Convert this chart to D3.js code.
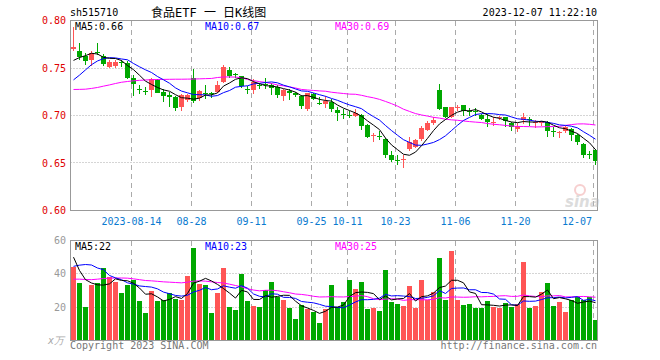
<!DOCTYPE html>
<html>
<head>
<meta charset="utf-8">
<script src="https://cdn.jsdelivr.net/npm/d3@7"></script>
<style>
body { margin: 0; background: #fff; }
text { font-family: "DejaVu Sans Mono", monospace; font-size: 10px; }
</style>
</head>
<body>
<div id="chart"></div>
<script>
// tick positions (candle index) and their date labels
const tickIdx = [10, 20, 30, 40, 46, 54, 64, 74, 87];
const tickLabels = ["2023-08-14", "08-28", "09-11", "09-25", "10-11", "10-23", "11-06", "11-20", "12-07"];
const priceTicks = [0.60, 0.65, 0.70, 0.75, 0.80];
const volTicks = [20, 40, 60];

// daily candles
const open = [.7695,.7675,.7623,.7580,.7672,.7630,.7511,.7522,.7560,.7550,.7395,.7280,.7262,.7267,.7372,.7250,.7215,.7190,.7086,.7162,
  .7400,.7180,.7240,.7235,.7246,.7351,.7483,.7435,.7420,.7276,.7267,.7318,.7330,.7326,.7302,.7204,.7263,.7239,.7204,.7064,
  .7228,.7136,.7124,.7141,.7061,.7017,.7010,.6998,.7005,.6903,.6786,.6788,.6753,.6579,.6535,.6542,.6649,.6673,.6753,.6848,
  .6917,.7266,.7085,.6987,.7083,.7109,.7045,.7052,.7004,.6962,.6926,.6978,.6980,.6917,.6858,.6952,.6964,.6926,.6926,.6928,
  .6832,.6821,.6840,.6858,.6798,.6701,.6591,.6638];
const high = [.7930,.7763,.7660,.7679,.7763,.7645,.7580,.7580,.7588,.7570,.7424,.7319,.7302,.7400,.7389,.7274,.7250,.7204,.7225,.7225,
  .7494,.7265,.7316,.7246,.7361,.7536,.7511,.7448,.7420,.7309,.7379,.7344,.7396,.7337,.7326,.7281,.7274,.7246,.7221,.7239,
  .7239,.7197,.7204,.7169,.7085,.7068,.7043,.7068,.7015,.6910,.6813,.6834,.6764,.6631,.6589,.6579,.6771,.6753,.6893,.6945,
  .6987,.7329,.7092,.7092,.7113,.7109,.7078,.7078,.7015,.7015,.6980,.6997,.6987,.6928,.6917,.7022,.6987,.6952,.6945,.6938,
  .6875,.6840,.6893,.6868,.6805,.6708,.6631,.6648];
const low = [.7680,.7588,.7529,.7522,.7634,.7520,.7495,.7495,.7511,.7380,.7204,.7225,.7215,.7197,.7232,.7145,.7086,.7051,.7051,.7140,
  .7128,.7150,.7176,.7187,.7239,.7337,.7396,.7396,.7291,.7228,.7228,.7281,.7281,.7221,.7187,.7152,.7162,.7197,.7064,.7047,
  .7162,.7106,.7082,.7036,.6945,.6963,.6973,.6987,.6848,.6764,.6725,.6743,.6551,.6509,.6474,.6450,.6624,.6659,.6736,.6841,
  .6903,.7057,.6970,.6970,.7043,.6998,.6997,.6997,.6952,.6875,.6893,.6952,.6882,.6833,.6823,.6910,.6893,.6868,.6893,.6778,
  .6778,.6760,.6812,.6736,.6694,.6554,.6544,.6484];
const close = [.7721,.7616,.7574,.7661,.7664,.7546,.7564,.7564,.7555,.7400,.7330,.7270,.7255,.7379,.7239,.7204,.7200,.7075,.7218,.7215,
  .7150,.7257,.7235,.7230,.7316,.7511,.7420,.7428,.7309,.7272,.7351,.7314,.7322,.7291,.7221,.7267,.7239,.7211,.7099,.7232,
  .7176,.7132,.7152,.7064,.7026,.7013,.7006,.7026,.6893,.6778,.6790,.6771,.6579,.6533,.6531,.6546,.6718,.6746,.6869,.6917,
  .6956,.7068,.6980,.7085,.7087,.7050,.7041,.7048,.6962,.6928,.6930,.6982,.6938,.6882,.6893,.6987,.6960,.6930,.6930,.6840,
  .6828,.6825,.6882,.6798,.6718,.6579,.6587,.6519];
// volume in 万 lots
const volume = [44.4,34.5,20.2,33.3,34.5,43.8,38.2,35.2,28.5,33.5,36.4,23.8,16.6,29.9,24.0,24.4,28.3,25.0,24.4,38.8,
  55.8,33.9,33.5,16.6,28.5,43.4,20.2,18.6,39.8,23.6,21.0,20.0,30.1,35.2,25.9,24.6,19.6,12.7,21.4,19.2,
  17.4,10.7,19.0,33.1,20.2,23.2,36.2,30.9,35.0,19.0,19.6,17.8,42.2,23.2,22.0,20.8,32.7,19.8,36.2,24.4,
  29.1,49.3,24.4,53.5,24.4,21.4,22.0,19.8,19.8,23.8,20.2,19.8,22.6,20.4,22.0,46.9,19.8,21.0,29.3,34.5,
  20.8,23.2,17.2,24.4,26.1,24.6,25.9,12.5];

// moving-average values before enough history is on the chart
const ma5Head = [.7580,.7610,.7630,.7655];
const ma10Head = [.7375,.7425,.7480,.7535,.7574,.7599,.7609,.7606,.7595];
const ma30Head = [.7274,.7275,.7277,.7285,.7295,.7309,.7322,.7337,.7350,.7358,.7365,.7370,.7374,.7377,.7379,
  .7380,.7381,.7382,.7382,.7383,.7384,.7386,.7388,.7390,.7400,.7405,.7406,.7404,.7398];
const volMa5Head = [50, 42, 36.5, 34.5];
const volMa10Head = [44.5, 45.2, 45.6, 45.3, 43.5, 42.5, 39.0, 37.6, 36.5];
const volMa30Head = [36.8,36.8,36.6,36.5,36.8,37.2,37.4,37.5,37.5,37.4,37.0,36.5,36.0,35.8,35.5,35.2,35.0,34.8,34.6,35.0,
  35.6,35.8,35.6,35.2,34.8,34.5,33.8,33.0,32.2];

const upColor = "#ff5555", downColor = "#00a800";
const gridColor = "#aaa", frameColor = "#999";

function movingAvg(values, n, head) {
    return values.map((v, i) => i < n - 1 ? head[i] : d3.mean(values.slice(i - n + 1, i + 1)));
}

const svg = d3.select("#chart").append("svg").attr("width", 660).attr("height", 360);
const idx = d3.range(close.length);

const x = d3.scaleBand().domain(idx).range([70, 598]);
const yP = d3.scaleLinear().domain([0.60, 0.80]).range([210.5, 20.5]);
const yV = d3.scaleLinear().domain([0, 60]).range([340.5, 240.5]);

const left = 70.5, right = 597.5;

// ---- grids
function vGrid(y0, y1) {
    svg.append("g").selectAll("line").data(tickIdx).join("line")
        .attr("x1", d => x(d) + 1.5).attr("x2", d => x(d) + 1.5)
        .attr("y1", y0).attr("y2", y1)
        .attr("stroke", gridColor).attr("stroke-dasharray", "5,4");
}
vGrid(21, 210);
vGrid(241, 340);

svg.append("g").selectAll("line").data([0.65, 0.70, 0.75]).join("line")
    .attr("x1", left).attr("x2", right)
    .attr("y1", d => Math.round(yP(d) - 0.5) + 0.5).attr("y2", d => Math.round(yP(d) - 0.5) + 0.5)
    .attr("stroke", gridColor).attr("stroke-dasharray", "1,2");
svg.append("g").selectAll("line").data([20, 40]).join("line")
    .attr("x1", left).attr("x2", right)
    .attr("y1", d => Math.round(yV(d) - 0.5) + 0.5).attr("y2", d => Math.round(yV(d) - 0.5) + 0.5)
    .attr("stroke", gridColor).attr("stroke-dasharray", "1,2");

// ---- candles
const color = i => close[i] >= open[i] ? upColor : downColor;
const candles = svg.append("g").attr("shape-rendering", "crispEdges");
candles.selectAll("line").data(idx).join("line")
    .attr("x1", i => x(i) + 3.5).attr("x2", i => x(i) + 3.5)
    .attr("y1", i => yP(high[i])).attr("y2", i => yP(low[i]))
    .attr("stroke", color);
candles.selectAll("rect").data(idx).join("rect")
    .attr("x", i => x(i) + 1).attr("width", 5)
    .attr("y", i => yP(Math.max(open[i], close[i])))
    .attr("height", i => Math.max(1, Math.abs(yP(open[i]) - yP(close[i]))))
    .attr("fill", color);

// ---- volume bars
svg.append("g").attr("shape-rendering", "crispEdges")
    .selectAll("rect").data(idx).join("rect")
    .attr("x", i => x(i) + 1).attr("width", 5)
    .attr("y", i => yV(volume[i])).attr("height", i => yV(0) - yV(volume[i]))
    .attr("fill", color);

// ---- moving averages
function drawLine(values, y, stroke) {
    const line = d3.line().x((d, i) => x(i) + 3.5).y(d => y(d));
    svg.append("path").datum(values).attr("d", line)
        .attr("fill", "none").attr("stroke", stroke).attr("stroke-width", 1);
}
drawLine(movingAvg(close, 30, ma30Head), yP, "#ff00ff");
drawLine(movingAvg(close, 10, ma10Head), yP, "#0000ff");
drawLine(movingAvg(close, 5, ma5Head), yP, "#000");
drawLine(movingAvg(volume, 30, volMa30Head), yV, "#ff00ff");
drawLine(movingAvg(volume, 10, volMa10Head), yV, "#0000ff");
drawLine(movingAvg(volume, 5, volMa5Head), yV, "#000");

// ---- frames
svg.append("rect").attr("x", left).attr("y", 20.5).attr("width", right - left).attr("height", 190)
    .attr("fill", "none").attr("stroke", frameColor);
svg.append("rect").attr("x", left).attr("y", 240.5).attr("width", right - left).attr("height", 100)
    .attr("fill", "none").attr("stroke", frameColor);

// ---- axis labels
svg.append("g").selectAll("text").data(priceTicks).join("text")
    .attr("x", 66).attr("y", d => yP(d)).attr("dy", "0.35em").attr("text-anchor", "end")
    .attr("fill", "#e00000").text(d => d.toFixed(2));
svg.append("g").selectAll("text").data(volTicks).join("text")
    .attr("x", 66).attr("y", d => yV(d)).attr("dy", "0.35em").attr("text-anchor", "end")
    .attr("fill", "#999").text(d => d);
svg.append("text").attr("x", 64).attr("y", 344).attr("text-anchor", "end")
    .attr("fill", "#aaa").style("font-style", "italic").text("x万");

// last date label is pulled inside the frame
svg.append("g").selectAll("text").data(tickIdx).join("text")
    .attr("x", (d, i) => i === tickIdx.length - 1 ? 592 : x(d) + 1.5).attr("y", 225)
    .attr("text-anchor", (d, i) => i === tickIdx.length - 1 ? "end" : "middle")
    .attr("fill", "#0a7ad0").text((d, i) => tickLabels[i]);

// ---- titles and legends
svg.append("text").attr("x", 70).attr("y", 16).attr("fill", "#000").text("sh515710");
svg.append("text").attr("x", 151).attr("y", 17).attr("fill", "#000")
    .style("font-family", "'DejaVu Sans Mono','Noto Sans CJK SC',monospace").style("font-size", "12px")
    .text("食品ETF 一 日K线图");
svg.append("text").attr("x", 597).attr("y", 16).attr("text-anchor", "end").attr("fill", "#000")
    .text("2023-12-07 11:22:10");

const legends = [
    { x: 75, y: 30, c: "#000", t: "MA5:0.66" }, { x: 205, y: 30, c: "#0000ff", t: "MA10:0.67" },
    { x: 335, y: 30, c: "#ff00ff", t: "MA30:0.69" },
    { x: 75, y: 250, c: "#000", t: "MA5:22" }, { x: 205, y: 250, c: "#0000ff", t: "MA10:23" },
    { x: 335, y: 250, c: "#ff00ff", t: "MA30:25" }
];
svg.append("g").selectAll("text").data(legends).join("text")
    .attr("x", d => d.x).attr("y", d => d.y).attr("fill", d => d.c).text(d => d.t);

svg.append("text").attr("x", 70).attr("y", 349).attr("fill", "#777")
    .text("Copyright 2023 SINA.COM");
svg.append("text").attr("x", 597).attr("y", 349).attr("text-anchor", "end").attr("fill", "#777")
    .text("http://finance.sina.com.cn");

// ---- sina watermark
const wm = svg.append("g").attr("opacity", 0.5);
wm.append("circle").attr("cx", 580).attr("cy", 190).attr("r", 5).attr("fill", "none").attr("stroke", "#f0a0a0").attr("stroke-width", 2);
wm.append("text").attr("x", 565).attr("y", 207).attr("fill", "#bbb")
    .style("font-family", "'DejaVu Sans'").style("font-style", "italic").style("font-weight", "bold").style("font-size", "15px")
    .text("sina");
</script>
</body>
</html>
